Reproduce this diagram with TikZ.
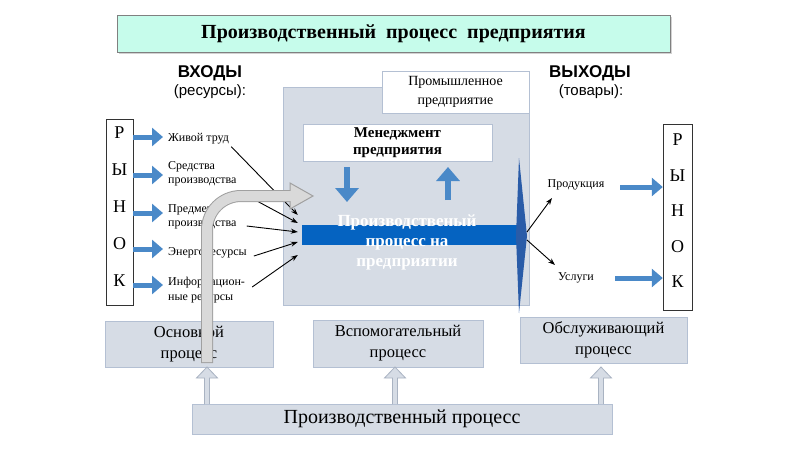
\documentclass[tikz,border=0pt]{standalone}
\usepackage{fontspec}
\setmainfont{Liberation Serif}
\newfontfamily\headfont{Liberation Sans}
\usetikzlibrary{arrows.meta,shadows,calc}
\definecolor{mint}{HTML}{C6FCEB}
\definecolor{panel}{HTML}{D6DCE5}
\definecolor{panel-line}{HTML}{B4C0D3}
\definecolor{flow-blue}{HTML}{0563C1}
\definecolor{arrow-blue}{HTML}{4A89C8}
\definecolor{spike-blue}{HTML}{2A5CA8}
\definecolor{loop-fill}{HTML}{D9D9D9}
\definecolor{loop-edge}{HTML}{A0A0A0}
\tikzset{
    title-box/.style = {draw=gray, fill=mint, drop shadow={shadow xshift=2pt, shadow yshift=-2pt, opacity=0.35}, font=\bfseries\fontsize{20}{22}\selectfont, minimum width=553pt, minimum height=37pt},
    panel-box/.style = {draw=panel-line, fill=panel, align=center, font=\fontsize{16.5}{21}\selectfont},
    white-box/.style = {draw=panel-line, fill=white, align=center, font=\fontsize{14}{19}\selectfont},
    head-label/.style = {font=\headfont\bfseries\fontsize{17}{19}\selectfont},
    head-sub/.style = {font=\headfont\fontsize{15}{17}\selectfont},
    market-box/.style = {draw=black!80, fill=white, minimum width=27pt, minimum height=186pt},
    market-letter/.style = {font=\fontsize{18}{18}\selectfont},
    res-label/.style = {anchor=west, align=left, font=\fontsize{12}{14.5}\selectfont, inner sep=2pt},
    blue-arrow/.style = {draw=arrow-blue, fill=arrow-blue, line width=5pt, -{Triangle[width=18pt,length=11pt]}},
    thin-arrow/.style = {-{Stealth[length=7pt,width=5pt]}, line width=0.9pt},
    hollow-arrow/.style = {draw=panel-line!80!gray, fill=panel, line width=0.8pt},
}

\begin{document}
\begin{tikzpicture}[x=1pt,y=-1pt]
\useasboundingbox[fill=white] (0,0) rectangle (800,450);

% title
\node[title-box] (title) at (393.5,33.5) {Производственный\ \ процесс\ \ предприятия};

% inputs and outputs headings
\node[head-label] (in-head) at (210,73) {ВХОДЫ};
\node[head-sub] (in-sub) at (210,92) {(ресурсы):};
\node[head-label] (out-head) at (590,73) {ВЫХОДЫ};
\node[head-sub] (out-sub) at (591,92) {(товары):};

% enterprise
\node[panel-box, minimum width=246pt, minimum height=218pt] (firm) at (406,196) {};
\node[white-box, minimum width=147pt, minimum height=42pt] (plant) at (455.5,92) {Промышленное\\предприятие};
\node[white-box, font=\bfseries\fontsize{15}{17}\selectfont, minimum width=189pt, minimum height=36pt] (mgmt) at (397.5,143) {Менеджмент\\предприятия};
\draw[draw=arrow-blue, line width=6pt, -{Triangle[width=23pt,length=14pt]}] (347,167) -- (347,202);
\draw[draw=arrow-blue, line width=6pt, -{Triangle[width=23pt,length=14pt]}] (448,200) -- (448,167);

% main flow
\node[fill=flow-blue, minimum width=218pt, minimum height=20pt, inner sep=0pt] (bar) at (411,235) {};
\fill[spike-blue] (519,158) -- (527,236) -- (519,313) -- (516,236) -- cycle;
\coordinate (tip) at (527,236);
\node[text=white, align=center, font=\bfseries\fontsize{17}{20}\selectfont] (flow-text) at (407,242) {Производственый\\процесс на\\предприятии};

% market, left
\node[market-box] (mkt-l) at (119.5,212) {};
\foreach \ch [count=\i] in {Р,Ы,Н,О,К}
    \node[market-letter] (ll\i) at (119.5,{133+37*(\i-1)}) {\ch};

\node[res-label] (lab1) at (166,139) {Живой труд};
\node[res-label] (lab2) at (166,174) {Средства\\производства};
\node[res-label] (lab3) at (166,217) {Предметы\\производства};
\node[res-label] (lab4) at (166,253) {Энергоресурсы};
\node[res-label] (lab5) at (166,290) {Информацион-\\ные ресурсы};

\draw[blue-arrow] (133,137) -- (163,137);
\draw[blue-arrow] (133,175) -- (163,175);
\draw[blue-arrow] (133,213) -- (163,213);
\draw[blue-arrow] (133,249) -- (163,249);
\draw[blue-arrow] (133,285) -- (163,285);

\draw[thin-arrow] (lab1.south east) -- ($(bar.west)+(-4,-20)$);
\draw[thin-arrow] ($(lab2.south east)+(1,3)$) -- ($(bar.west)+(-4,-12)$);
\draw[thin-arrow] ($(lab3.east)+(8,9)$) -- ($(bar.west)+(-4,-3)$);
\draw[thin-arrow] ($(lab4.east)+(5,3)$) -- ($(bar.west)+(-4,7)$);
\draw[thin-arrow] ($(lab5.east)+(5,-3)$) -- ($(bar.west)+(-4,20)$);

% outputs
\node[res-label, anchor=center] (prod) at (576,185) {Продукция};
\node[res-label, anchor=center] (serv) at (576,278) {Услуги};
\draw[thin-arrow] ($(tip)+(0,-4)$) -- (552,198);
\draw[thin-arrow] ($(tip)+(0,4)$) -- (555,265);

% market, right
\node[market-box, minimum width=29pt] (mkt-r) at (677.5,217) {};
\foreach \ch [count=\i] in {Р,Ы,Н,О,К}
    \node[market-letter] (rl\i) at (677.5,{140+35.5*(\i-1)}) {\ch};
\draw[blue-arrow] (620,187) -- (mkt-r.west |- 0,187);
\draw[blue-arrow] (615,278) -- (mkt-r.west |- 0,278);

% kinds of process
\node[panel-box, minimum width=168pt, minimum height=46pt] (osn) at (189,344) {Основной\\процесс};
\node[panel-box, minimum width=170pt, minimum height=47pt] (vsp) at (398,343.5) {Вспомогательный\\процесс};
\node[panel-box, minimum width=167pt, minimum height=46pt] (obs) at (603.5,340) {Обслуживающий\\процесс};
\node[panel-box, font=\fontsize{20}{22}\selectfont, minimum width=420pt, minimum height=30pt] (base) at (402,419) {Производственный процесс};

\foreach \x in {207,395,601}
    \filldraw[hollow-arrow] ({\x-2.5},404) -- ({\x-2.5},378) -- ({\x-10.5},378) -- (\x,367) -- ({\x+10.5},378) -- ({\x+2.5},378) -- ({\x+2.5},404);

% grey loop arrow
\coordinate (loop-start) at (207,363);
\coordinate (loop-end) at (313,196);
\draw[draw=loop-edge, line width=12pt, rounded corners=34pt] (loop-start) -- (207,196) -- (291,196);
\filldraw[fill=loop-fill, draw=loop-edge, line width=1pt] (290,183) -- (loop-end) -- (290,209) -- cycle;
\draw[draw=loop-fill, line width=10pt, rounded corners=34pt] (207,362) -- (207,196) -- (292,196);
\end{tikzpicture}
\end{document}
